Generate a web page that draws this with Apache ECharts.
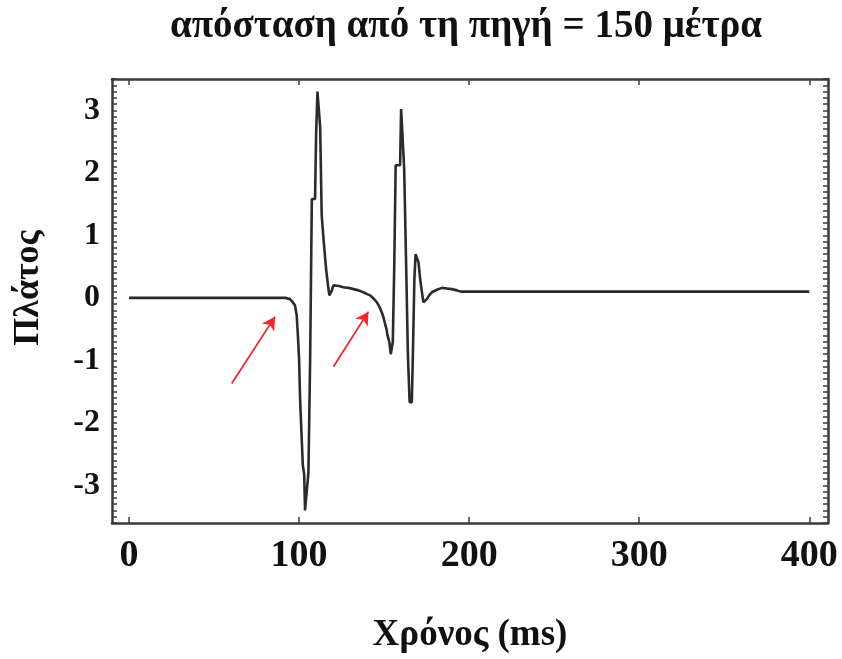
<!DOCTYPE html>
<html>
<head>
<meta charset="utf-8">
<script src="https://cdn.jsdelivr.net/npm/echarts@6/dist/echarts.min.js"></script>
<style>
  html, body { margin: 0; padding: 0; background: #fff; }
  #chart { width: 842px; height: 659px; }
</style>
</head>
<body>
<div id="chart"></div>
<script>
// Recorded trace: time (ms) and amplitude at 150 m from the source
const timeMs = [
  0, 90, 92, 94.7, 96, 97.6, 98.6, 99.3, 100, 100.6, 101.6, 102.2, 103, 103.5, 104.6,
  105.5, 106, 106.5, 107.5, 109.4, 110, 110.8, 111.5, 112.4, 113.3, 114.5, 115.9, 117, 117.8,
  119, 120.2, 121.2, 123.5, 126, 129, 132, 135, 137.8, 140, 141.8, 143.8, 145.7, 147.2,
  148.6, 149.7, 150.6, 151.4, 152, 153.1, 153.9, 154.6, 155.1, 155.9, 156.8, 157.5, 159.4,
  160, 160.8, 161.8, 163, 164, 165, 165.6, 166.3, 166.9, 167.8, 168.5, 169.2, 170.2, 171.2,
  172.2, 173.1, 174.2, 175.1, 176.5, 178.1, 181, 184, 187, 189.8, 192.8, 195, 400
];
const amplitude = [
  0, 0, 0, -0.02, -0.06, -0.12, -0.28, -0.6, -0.98, -1.62, -1.62, -2.68, -2.82, -3.40, -3.40,
  -2.79, -2.79, -0.98, 1.58, 1.58, 2.6, 3.3, 3.3, 2.73, 1.32, 0.9, 0.46, 0.2, 0.04,
  0.1, 0.2, 0.21, 0.19, 0.17, 0.16, 0.14, 0.12, 0.09, 0.06, 0.04, -0.01, -0.07, -0.14,
  -0.23, -0.32, -0.42, -0.5, -0.6, -0.71, -0.90, -0.90, -0.71, 0.41, 2.12, 2.12, 2.12,
  3.02, 3.02, 2.06, 0.46, -0.92, -1.67, -1.67, -1.67, -0.92, 0.30, 0.70, 0.70, 0.57, 0.30,
  0.1, -0.07, -0.07, -0.02, 0.04, 0.09, 0.13, 0.16, 0.15, 0.14, 0.12, 0.1, 0.1
];

// Red arrows pointing at the onsets of the two arrivals
const arrowTail = [[60.4, -1.37], [120.2, -1.10]];
const arrowHead = [[85.9, -0.30], [140.8, -0.22]];

// Axis ticks and labels
const xTicks = [0, 100, 200, 300, 400];
const yLabels = [-3, -2, -1, 0, 1, 2, 3];

const titleText = 'απόσταση από τη πηγή = 150 μέτρα';
const xName = 'Χρόνος (ms)';
const yName = 'Πλάτος';

const serif = '"Liberation Serif", "DejaVu Serif", serif';
const frameColor = '#3a3a3a';

const chart = echarts.init(document.getElementById('chart'), null, { renderer: 'canvas' });

const frameLine = { show: true, onZero: false, lineStyle: { color: frameColor, width: 2.5 } };

chart.setOption({
  animation: false,
  backgroundColor: '#fff',
  graphic: [{
    type: 'text',
    x: 466, y: 27,
    silent: true,
    style: {
      text: titleText,
      font: 'bold 39px ' + serif,
      fill: '#111',
      textAlign: 'center',
      textVerticalAlign: 'middle'
    }
  }, {
    type: 'text',
    x: 29, y: 288,
    rotation: Math.PI / 2,
    silent: true,
    style: {
      text: yName,
      font: 'bold 36px ' + serif,
      fill: '#111',
      textAlign: 'center',
      textVerticalAlign: 'middle'
    }
  }],
  grid: { left: 112, right: 14, top: 79, bottom: 136, containLabel: false },
  xAxis: [{
    type: 'value', position: 'bottom',
    min: -10, max: 411,
    axisLine: frameLine,
    axisTick: { show: true, inside: true, length: 6, customValues: xTicks, lineStyle: { color: frameColor, width: 1.5 } },
    axisLabel: { customValues: xTicks, fontFamily: serif, fontWeight: 'bold', fontSize: 38, color: '#111', margin: 14 },
    splitLine: { show: false },
    name: xName, nameLocation: 'middle', nameGap: 94,
    nameTextStyle: { fontFamily: serif, fontWeight: 'bold', fontSize: 37, color: '#111' }
  }, {
    type: 'value', position: 'top',
    min: -10, max: 411,
    axisLine: frameLine,
    axisTick: { show: true, inside: true, length: 6, customValues: xTicks, lineStyle: { color: frameColor, width: 1.5 } },
    axisLabel: { show: false },
    splitLine: { show: false }
  }],
  yAxis: [{
    type: 'value', position: 'left',
    min: -3.6, max: 3.5, interval: 0.1,
    axisLine: frameLine,
    axisTick: { show: true, inside: true, length: 5, lineStyle: { color: frameColor, width: 1.5 } },
    axisLabel: {
      fontFamily: serif, fontWeight: 'bold', fontSize: 32, color: '#111', margin: 12,
      formatter: function (v) {
        const r = Math.round(v);
        return (Math.abs(v - r) < 1e-6 && yLabels.indexOf(r) >= 0) ? String(r) : '';
      }
    },
    splitLine: { show: false }
  }, {
    type: 'value', position: 'right',
    min: -3.6, max: 3.5, interval: 0.1,
    axisLine: frameLine,
    axisTick: { show: true, inside: true, length: 5, lineStyle: { color: frameColor, width: 1.5 } },
    axisLabel: { show: false },
    splitLine: { show: false }
  }],
  series: [{
    type: 'line',
    xAxisIndex: 0, yAxisIndex: 0,
    data: timeMs.map((t, i) => [t, amplitude[i]]),
    showSymbol: false,
    smooth: false,
    lineStyle: { color: '#2b2b2b', width: 2.6 },
    silent: true,
    markLine: {
      silent: true,
      symbol: ['none', 'arrow'],
      symbolSize: [11, 13],
      label: { show: false },
      lineStyle: { color: '#f0282a', width: 1.8, type: 'solid' },
      data: arrowTail.map((tail, i) => [{ coord: tail }, { coord: arrowHead[i] }])
    }
  }]
});
</script>
</body>
</html>
